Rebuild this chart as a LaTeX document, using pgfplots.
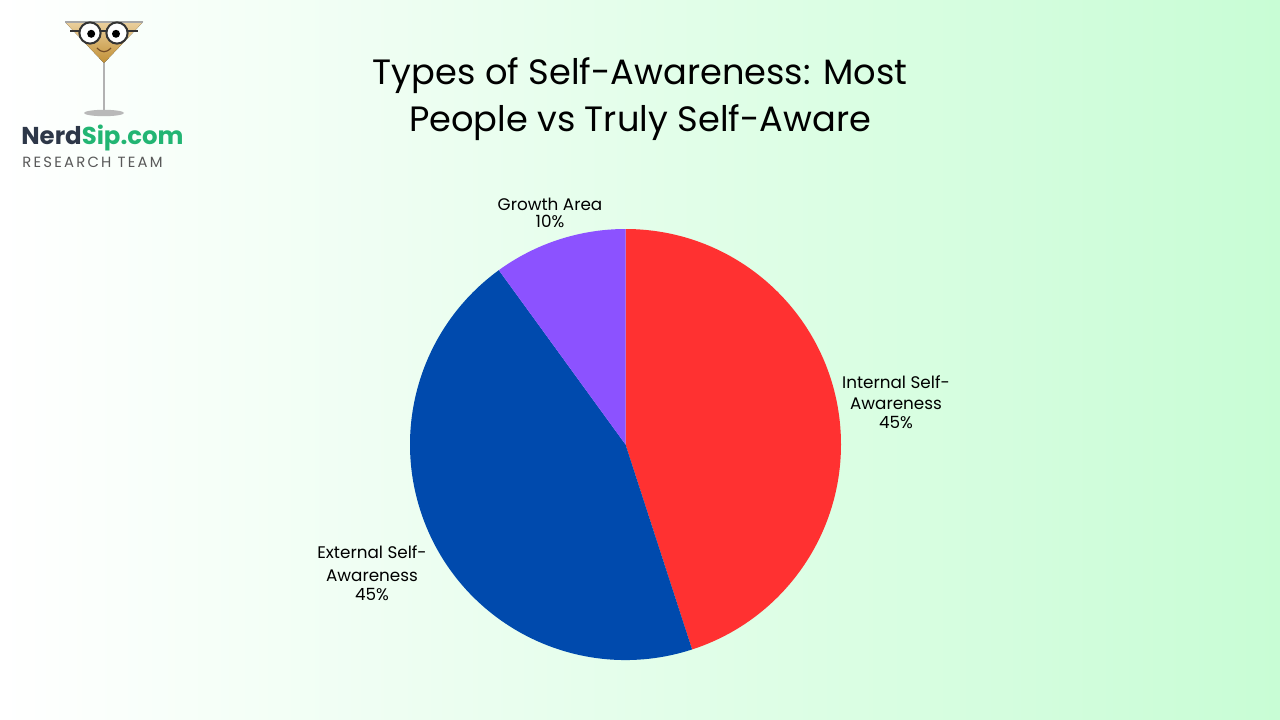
\documentclass[border=0pt]{standalone}
\usepackage{pgfplots}
\pgfplotsset{compat=1.18}
\usepackage{pgfplotstable}
\usepackage{fontspec}
\setmainfont{Poppins}

\definecolor{bgGreen}{RGB}{200,253,213}
\definecolor{pieRed}{RGB}{255,49,49}
\definecolor{pieBlue}{RGB}{0,74,173}
\definecolor{piePurple}{RGB}{140,82,255}
\definecolor{logoDark}{RGB}{45,55,72}
\definecolor{logoGreen}{RGB}{34,181,115}
\definecolor{gold}{RGB}{214,160,60}

% share of each slice, clockwise from 12 o'clock
\pgfplotstableread{
value color
45 pieRed
45 pieBlue
10 piePurple
}\piedata

\begin{document}
\begin{tikzpicture}[x=1pt,y=1pt]
\shade[left color=white, right color=bgGreen] (0,0) rectangle (640,359.5);

% logo
\fill[top color=gold!50!white, bottom color=gold!90!black] (32.5,348.5) -- (71.5,348.5) -- (52,328) -- cycle;
\draw[gray!70, line width=0.8pt] (32.5,348.5) -- (71.5,348.5);
\draw[gray!60, line width=1.2pt] (52,328) -- (52,304);
\fill[gray!55] (52,303) ellipse (10 and 1.6);
\draw[black!80, line width=1pt] (35,344) -- (69,344);
\filldraw[fill=white, draw=black!80, line width=1pt] (45,343) circle (5.3) (58.5,343) circle (5.3);
\fill[black] (45.6,342.6) circle (2) (58,342.6) circle (2);
\draw[brown!60!black, line width=0.6pt] (48.5,335.5) .. controls (51,333) and (53,333) .. (55.5,335.5);

\node[anchor=base west, inner sep=0, font=\fontsize{12.2}{14}\selectfont\bfseries]
  at (10.5,287) {\textcolor{logoDark}{Nerd}\textcolor{logoGreen}{Sip.com}};
\node[anchor=base west, inner sep=0, text=black!65,
  font=\fontsize{7.4}{8}\selectfont\addfontfeatures{LetterSpace=15}]
  at (11,275.5) {RESEARCH TEAM};

% title
\node[anchor=base, inner sep=0, font=\fontsize{17.6}{21}\selectfont] at (320,317)
  {Types of Self-Awareness: Most};
\node[anchor=base, inner sep=0, font=\fontsize{17.6}{21}\selectfont] at (320,293.5)
  {People vs Truly Self-Aware};

\begin{axis}[
  at={(312.75pt,137.25pt)}, anchor=center,
  hide axis,
  x=107.75pt, y=107.75pt,
  xmin=-1, xmax=1, ymin=-1, ymax=1,
]
\pgfplotstablegetrowsof{\piedata}
\pgfmathtruncatemacro\lastrow{\pgfplotsretval-1}
\def\angstart{90}
\pgfplotsforeachungrouped \i in {0,...,\lastrow}{
  \pgfplotstablegetelem{\i}{value}\of\piedata \let\val\pgfplotsretval
  \pgfplotstablegetelem{\i}{color}\of\piedata \let\col\pgfplotsretval
  \pgfmathsetmacro\angend{\angstart-3.6*\val}
  \edef\slice{\noexpand\fill[\col] (axis cs:0,0) --
    (axis cs:{cos(\angstart)},{sin(\angstart)})
    arc[start angle=\angstart, end angle=\angend, radius=107.75pt] -- cycle;}
  \slice
  \global\let\angstart\angend
}
\end{axis}

% slice labels
\begin{scope}[every node/.style={anchor=base, inner sep=0, font=\fontsize{8.4}{10}\selectfont}]
\node at (275,254.5) {Growth Area};
\node at (275,245.5) {10\%};
\node at (448,165.5) {Internal Self-};
\node at (448,155) {Awareness};
\node at (448,145.5) {45\%};
\node at (186,80.5) {External Self-};
\node at (186,69) {Awareness};
\node at (186,59.5) {45\%};
\end{scope}
\end{tikzpicture}
\end{document}
